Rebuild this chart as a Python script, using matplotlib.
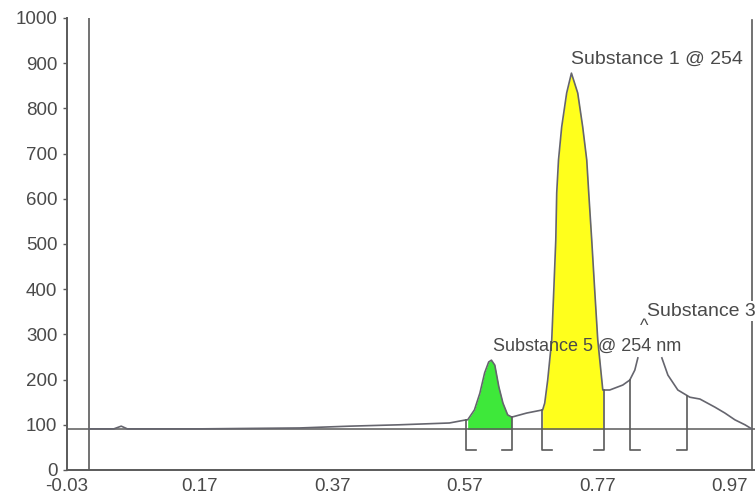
import numpy as np
import matplotlib.pyplot as plt

plt.rcParams['font.family'] = ['Liberation Sans', 'DejaVu Sans']

# chromatogram trace (retention factor vs intensity), NaN = hidden part under label
trace_x = [0.0032, 0.0406, 0.0518, 0.0610, 0.1694, 0.3208, 0.3964, 0.4711, 0.5468, 0.5723,
           0.5744, 0.5846, 0.5928, 0.6000, 0.6061, 0.6102, 0.6153, 0.6214, 0.6276, 0.6347, 0.6409,
           0.6634, 0.6875, 0.6906, 0.6951, 0.7012, 0.7043, 0.7073, 0.7087, 0.7114, 0.7162,
           0.7237, 0.7309, 0.7404, 0.7479, 0.7540, 0.7570, 0.7615, 0.7660, 0.7706, 0.7767,
           0.7782, 0.7887, 0.8084, 0.8189, 0.8265, 0.8311, 0.8495,
           0.8673, 0.8764, 0.8914, 0.9096, 0.9247, 0.9474, 0.9624, 0.9775, 0.9927, 1.0029]
trace_y = [91, 91, 97, 91, 91, 93, 97, 100, 104, 111,
           111, 133, 170, 215, 239, 243, 232, 184, 148, 122, 117,
           126, 133, 148, 199, 288, 398, 509, 613, 686, 759,
           834, 878, 834, 759, 686, 613, 509, 398, 288, 199,
           177, 177, 188, 199, 221, 248, np.nan,
           248, 210, 177, 161, 157, 139, 126, 111, 100, 91]

baseline = 90
green_range = (0.5744, 0.6409)
yellow_range = (0.6875, 0.7782)

# integration marks: position and which way the foot points
mark_x = [0.5723, 0.6419, 0.6859, 0.7800, 0.8188, 0.9057]
mark_side = [1, -1, 1, -1, 1, -1]
mark_bottom = 44
foot = 0.0153

x_ticks = [-0.03, 0.17, 0.37, 0.57, 0.77, 0.97]
y_ticks = [0, 100, 200, 300, 400, 500, 600, 700, 800, 900, 1000]

tx = np.array(trace_x)
ty = np.array(trace_y, dtype=float)

fig = plt.figure(figsize=(7.55, 4.97), dpi=100)
ax = fig.add_axes([67/755, 27/497, 688/755, 452/497])

line_col = '#5a5a5a'
txt_col = '#4a4a4a'

ax.axhline(baseline, color=line_col, lw=1.1, zorder=2)
ax.axvline(0.0032, color=line_col, lw=1.2, zorder=2)
ax.axvline(1.0039, ymin=0, ymax=0.995, color=line_col, lw=1.2, zorder=2)

m = (tx >= green_range[0]) & (tx <= green_range[1])
ax.fill_between(tx[m], ty[m], baseline, color='#3ee83a', lw=0, zorder=1)
m = (tx >= yellow_range[0]) & (tx <= yellow_range[1])
ax.fill_between(tx[m], ty[m], baseline, color='#ffff1c', lw=0, zorder=1)

ax.plot(tx, ty, color='#65656e', lw=1.2, zorder=3)

ok = ~np.isnan(ty)
for x, s in zip(mark_x, mark_side):
    top = np.interp(x, tx[ok], ty[ok])
    ax.plot([x + s*foot, x, x], [mark_bottom, mark_bottom, top],
            color=line_col, lw=1.2, zorder=3)

ax.text(0.7309, 909, 'Substance 1 @ 254', fontsize=14, color=txt_col, va='center',
        bbox=dict(facecolor='white', edgecolor='none', pad=1), zorder=5)
ax.text(0.8444, 351, 'Substance 3', fontsize=14, color=txt_col, va='center',
        bbox=dict(facecolor='white', edgecolor='none', pad=1), zorder=5)
ax.text(0.8413, 318, '^', fontsize=13, color=txt_col, ha='center', va='center', zorder=5)
ax.text(0.6122, 274, 'Substance 5 @ 254 nm', fontsize=13, color=txt_col, va='center', zorder=5)

ax.set_xlim(-0.03, 1.0078)
ax.set_ylim(0, 1000)
ax.set_xticks(x_ticks)
ax.set_xticklabels([f'{v:.2f}' for v in x_ticks])
ax.set_yticks(y_ticks)
ax.tick_params(axis='y', length=3, width=1, color=line_col, labelsize=13.5,
               labelcolor=txt_col, pad=4)
ax.tick_params(axis='x', length=0, labelsize=13.5, labelcolor=txt_col, pad=6)

for side in ['top', 'right']:
    ax.spines[side].set_visible(False)
for side in ['left', 'bottom']:
    ax.spines[side].set_color(line_col)
    ax.spines[side].set_linewidth(1.4)

fig.savefig('out.png', dpi=100)
